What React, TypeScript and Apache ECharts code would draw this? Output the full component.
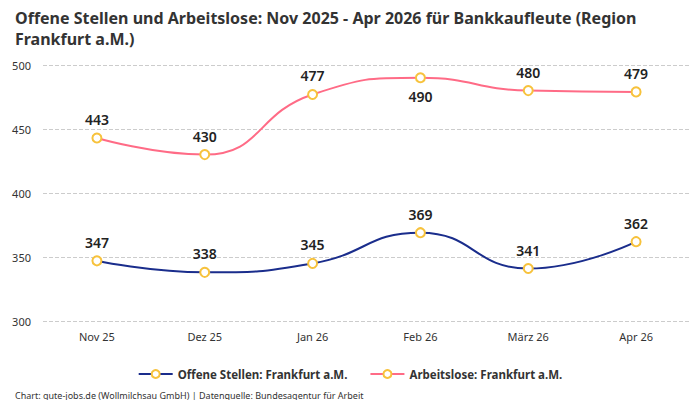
import React, { useEffect, useRef } from "react";
import * as echarts from "echarts";

const categories = ["Nov 25", "Dez 25", "Jan 26", "Feb 26", "März 26", "Apr 26"];
const offeneStellen = [347, 338, 345, 369, 341, 362];
const arbeitslose = [443, 430, 477, 490, 480, 479];
const arbeitsloseLabelPos = ["top", "top", "top", "bottom", "top", "top"];

const FONT = "'Noto Sans', 'Open Sans', sans-serif";

export default function App() {
  const ref = useRef<HTMLDivElement>(null);
  useEffect(() => {
    if (!ref.current) return;
    const chart = echarts.init(ref.current, undefined, { renderer: "svg" });
    const label = {
      show: true,
      position: "top",
      distance: 6,
      fontSize: 14,
      fontWeight: 600,
      color: "#222",
      fontFamily: FONT,
    };
    chart.setOption({
      animation: false,
      textStyle: { fontFamily: FONT },
      title: [
        {
          text: "Offene Stellen und Arbeitslose: Nov 2025 - Apr 2026 für Bankkaufleute (Region\nFrankfurt a.M.)",
          left: 10,
          top: 2,
          textStyle: { fontSize: 16, fontWeight: "bold", color: "#333", lineHeight: 21, fontFamily: FONT },
        },
        {
          text: "Chart: gute-jobs.de (Wollmilchsau GmbH) | Datenquelle: Bundesagentur für Arbeit",
          left: 10,
          top: 384,
          textStyle: { fontSize: 9, lineHeight: 12, fontWeight: "normal", color: "#333", fontFamily: FONT },
        },
      ],
      legend: {
        top: 363,
        left: "center",
        itemGap: 22,
        itemWidth: 34,
        itemHeight: 10,
        textStyle: { fontSize: 11.5, fontWeight: "bold", color: "#333", fontFamily: FONT },
        data: ["Offene Stellen: Frankfurt a.M.", "Arbeitslose: Frankfurt a.M."],
      },
      grid: { left: 43, right: 10, top: 65, bottom: 79 },
      xAxis: {
        type: "category",
        data: categories,
        boundaryGap: true,
        axisLine: { show: false },
        axisTick: { show: false },
        axisLabel: { fontSize: 11, color: "#333", margin: 10 },
      },
      yAxis: {
        type: "value",
        min: 300,
        max: 500,
        interval: 50,
        axisLabel: { fontSize: 11, color: "#333", margin: 12 },
        splitLine: { lineStyle: { type: "dashed", color: "#ccc" } },
      },
      series: [
        {
          name: "Offene Stellen: Frankfurt a.M.",
          type: "line",
          smooth: true,
          data: offeneStellen,
          symbol: "circle",
          symbolSize: 9,
          lineStyle: { color: "#1a2d8c", width: 2 },
          itemStyle: { color: "#fff", borderColor: "#f7c23c", borderWidth: 2 },
          label,
        },
        {
          name: "Arbeitslose: Frankfurt a.M.",
          type: "line",
          smooth: true,
          data: arbeitslose.map((v, i) => ({
            value: v,
            label: { position: arbeitsloseLabelPos[i] },
          })),
          symbol: "circle",
          symbolSize: 9,
          lineStyle: { color: "#ff6b86", width: 2 },
          itemStyle: { color: "#fff", borderColor: "#f7c23c", borderWidth: 2 },
          label,
        },
      ],
    });
    return () => chart.dispose();
  }, []);
  return <div ref={ref} style={{ width: 700, height: 400, position: "absolute", left: 0, top: 0 }} />;
}
